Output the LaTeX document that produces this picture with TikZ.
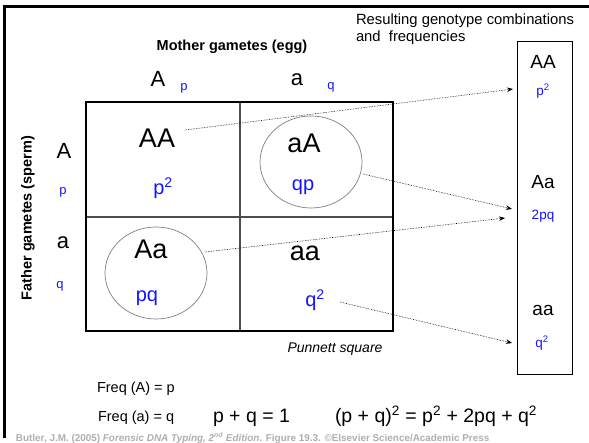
\documentclass[tikz,border=0pt]{standalone}
\usepackage{fontspec}
\setmainfont{Liberation Sans}
\usetikzlibrary{arrows.meta}
\newcommand\fsz[1]{\fontsize{#1}{#1}\selectfont}
\definecolor{cblue}{RGB}{20,20,255}
\definecolor{credit}{RGB}{175,175,175}
\begin{document}
\begin{tikzpicture}[x=1pt,y=-1pt,
  txt/.style={inner sep=0pt, outer sep=0pt},
  big/.style={txt, font=\fsz{27}},
  allele/.style={txt, font=\fsz{22}},
  freq/.style={txt, font=\fsz{13}, text=cblue},
  cellfreq/.style={txt, font=\fsz{20}, text=cblue},
  boxg/.style={txt, font=\fsz{19}},
  boxf/.style={txt, font=\fsz{13.5}, text=cblue},
  head/.style={txt, font=\bfseries\fsz{14.5}},
  conn/.style={densely dotted, line width=0.6pt, -{Stealth[length=6pt,width=4.5pt]}},
  eq/.style={txt, font=\fsz{19.5}, anchor=base west},
  small/.style={txt, font=\fsz{14.5}, anchor=base west}
]
\useasboundingbox (0,0) rectangle (589,443);
\fill[white] (0,0) rectangle (589,443);
% outer frame
\draw[line width=3pt] (4,438) -- (4,7) -- (589,7);
% Punnett square
\draw[gray!60!black, line width=1.2pt] (240,102) -- (240,331) (86,217) -- (393,217);
\draw[line width=1.7pt] (86,102) rectangle (393,331);
% circles
\draw[gray, line width=0.7pt] (311,162) ellipse [x radius=51, y radius=46];
\draw[gray, line width=0.7pt] (156,273) ellipse [x radius=51, y radius=46];
% right box
\draw[line width=1pt] (517,42) rectangle (572,375);
% headings
\node[txt, font=\fsz{14.8}, anchor=base west] (res1) at (356,25) {Resulting genotype combinations};
\node[txt, font=\fsz{14.8}, anchor=base west] (res2) at (356,42) {and\ \ frequencies};
\node[head] (mother) at (232,47) {Mother gametes (egg)};
\node[head, rotate=90] (father) at (28,218) {Father gametes (sperm)};
% mother alleles
\node[allele] (mA) at (158,79) {A};
\node[freq] (mp) at (184,88) {p};
\node[allele] (ma) at (297,80) {a};
\node[freq] (mq) at (331,87) {q};
% father alleles
\node[allele] (fA) at (64,151) {A};
\node[freq] (fp) at (63,192) {p};
\node[allele] (fa) at (63,243) {a};
\node[freq] (fq) at (60,286) {q};
% cells
\node[big] (cAA) at (157,138) {AA};
\node[cellfreq] (cp2) at (163,188) {p\textsuperscript{2}};
\node[big] (caA) at (304,143) {aA};
\node[cellfreq] (cqp) at (303,187) {qp};
\node[big] (cAa) at (151,249) {Aa};
\node[cellfreq] (cpq) at (147,298) {pq};
\node[big] (caa) at (305,253) {aa};
\node[cellfreq] (cq2) at (315,300) {q\textsuperscript{2}};
% right box contents
\node[boxg] (rAA) at (543,62) {AA};
\node[boxf] (rp2) at (543,91) {p\textsuperscript{2}};
\node[boxg] (rAa) at (543,182) {Aa};
\node[boxf] (r2pq) at (543,216) {2pq};
\node[boxg] (raa) at (543,310) {aa};
\node[boxf] (rq2) at (542,343) {q\textsuperscript{2}};
% connector end points
\coordinate (s1) at (185,130);
\coordinate (e1) at (513,89);
\coordinate (s2) at (363,174);
\coordinate (e2) at (512,209);
\coordinate (s3) at (205,252);
\coordinate (e3) at (505,218);
\coordinate (s4) at (340,302);
\coordinate (e4) at (512,343);
\draw[conn] (s1) -- (e1);
\draw[conn] (s2) -- (e2);
\draw[conn] (s3) -- (e3);
\draw[conn] (s4) -- (e4);
% bottom text
\node[txt, font=\itshape\fsz{14}] (pun) at (335,349) {Punnett square};
\node[small] (fA1) at (97,392) {Freq (A) = p};
\node[small] (fa1) at (98,421) {Freq (a) = q};
\node[eq] (eq1) at (213,423) {p + q = 1};
\node[eq] (eq2) at (335,423) {(p + q)\textsuperscript{2} = p\textsuperscript{2} + 2pq + q\textsuperscript{2}};
\node[txt, font=\bfseries\fsz{9.9}, text=credit, anchor=base west] (cred) at (16,441)
  {Butler, J.M. (2005) \textit{Forensic DNA Typing, 2\textsuperscript{nd} Edition}. Figure 19.3. ©Elsevier Science/Academic Press};
\end{tikzpicture}
\end{document}
